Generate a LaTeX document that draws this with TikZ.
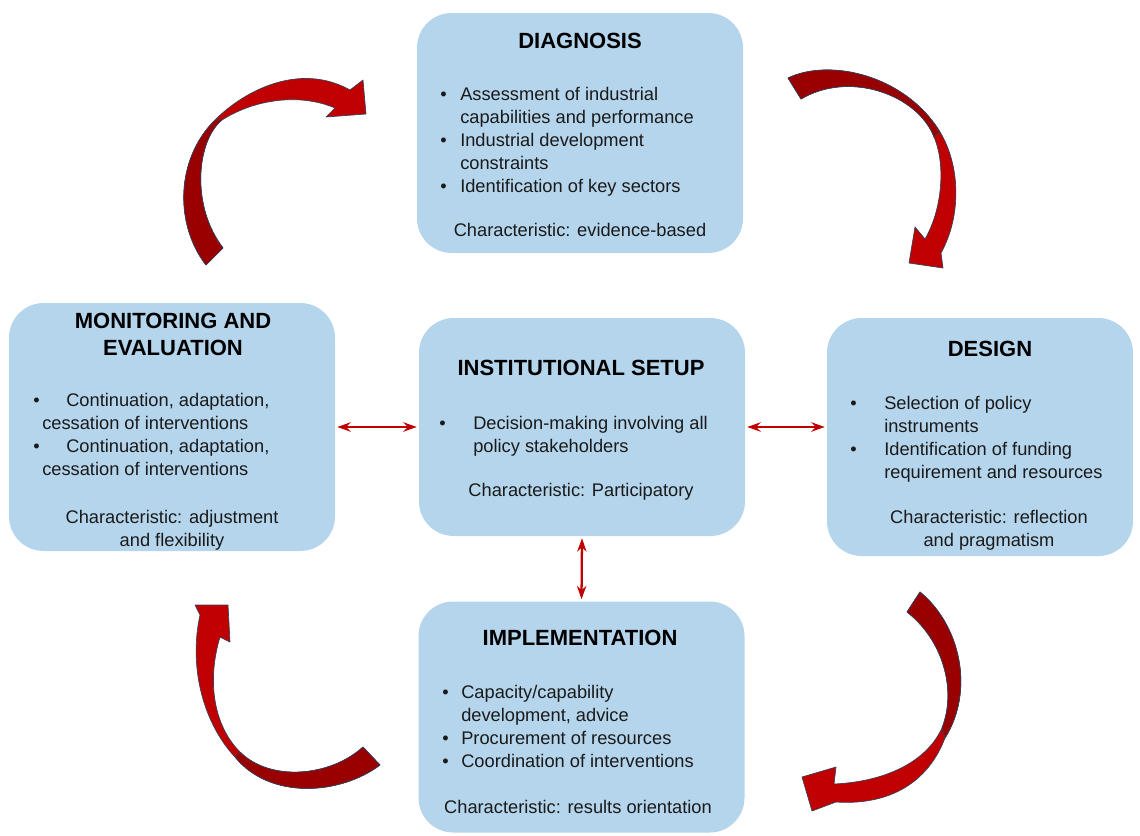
\documentclass[tikz,border=0pt]{standalone}
\usepackage{fontspec}
\setmainfont{Liberation Sans}
\usetikzlibrary{arrows.meta}
\definecolor{boxblue}{HTML}{B4D5EC}
\definecolor{arrowred}{HTML}{C00000}
\definecolor{arrowdark}{HTML}{990000}
\definecolor{arrowedge}{HTML}{34405C}
\definecolor{txtgray}{HTML}{1A1A1A}
\newcommand{\blist}[1]{\begin{tabular}[t]{@{}l@{}l@{}}#1\end{tabular}}
\newcommand{\clist}[1]{\begin{tabular}[t]{@{}c@{}}#1\end{tabular}}
\newcommand{\bul}[1]{\makebox[#1][l]{\textbullet}}

\begin{document}
\begin{tikzpicture}[x=0.75pt, y=-0.75pt,
  box/.style={draw=none, fill=boxblue, rounded corners=26pt, minimum width=244.5pt},
  boxtitle/.style={font=\fontsize{16.5}{20.25}\selectfont\bfseries, inner sep=0, anchor=base},
  boxtext/.style={font=\fontsize{13.7}{17.25}\selectfont, text=txtgray, inner sep=0},
  duallink/.style={draw=arrowred, line width=1.7pt, {Stealth[length=10pt,width=7pt]}-{Stealth[length=10pt,width=7pt]}, shorten <=1.5pt, shorten >=1.5pt},
  curvearrow/.style={fill=arrowred, draw=arrowedge, line width=0.5pt, line join=round},
  curveback/.style={fill=arrowdark, draw=arrowedge, line width=0.5pt, line join=round}]
  \useasboundingbox (0,0) rectangle (1140,836);
  % boxes
  \node[box, minimum height=180pt] (diag) at (580,133) {};
  \node[box, minimum height=186pt] (mon) at (172,427) {};
  \node[box, minimum height=163.5pt] (inst) at (582,427) {};
  \node[box, minimum width=229.5pt, minimum height=178.5pt] (design) at (980,437) {};
  \node[box, minimum height=173.25pt] (impl) at (581.5,717) {};
  % diagnosis
  \node[boxtitle] (diagTitle) at (580,48) {DIAGNOSIS};
  \node[boxtext, anchor=base west] (diagList) at (440,100) {\blist{\bul{15pt}&Assessment of industrial\\&capabilities and performance\\\bul{15pt}&Industrial development\\&constraints\\\bul{15pt}&Identification of key sectors}};
  \node[boxtext, anchor=base] (diagChar) at (580,236) {Characteristic: evidence-based};
  % monitoring and evaluation
  \node[boxtitle] (monTitle) at (173,328) {\clist{MONITORING AND\\EVALUATION}};
  \node[boxtext, anchor=base west] (monList) at (33,406) {\blist{\bul{24.75pt}&Continuation, adaptation,\\\multicolumn{2}{@{}l@{}}{\hspace*{6.75pt}cessation of interventions}\\\bul{24.75pt}&Continuation, adaptation,\\\multicolumn{2}{@{}l@{}}{\hspace*{6.75pt}cessation of interventions}}};
  \node[boxtext, anchor=base] (monChar) at (172,523) {\clist{Characteristic: adjustment\\and flexibility}};
  % institutional setup
  \node[boxtitle] (instTitle) at (581,375) {INSTITUTIONAL SETUP};
  \node[boxtext, anchor=base west] (instList) at (439,429) {\blist{\bul{25.5pt}&Decision-making involving all\\&policy stakeholders}};
  \node[boxtext, anchor=base] (instChar) at (581,496) {Characteristic: Participatory};
  % design
  \node[boxtitle] (designTitle) at (990,356) {DESIGN};
  \node[boxtext, anchor=base west] (designList) at (850,409) {\blist{\bul{25.5pt}&Selection of policy\\&instruments\\\bul{25.5pt}&Identification of funding\\&requirement and resources}};
  \node[boxtext, anchor=base] (designChar) at (989,523) {\clist{Characteristic: reflection\\and pragmatism}};
  % implementation
  \node[boxtitle] (implTitle) at (580,645) {IMPLEMENTATION};
  \node[boxtext, anchor=base west] (implList) at (442,698) {\blist{\bul{14.25pt}&Capacity/capability\\&development, advice\\\bul{14.25pt}&Procurement of resources\\\bul{14.25pt}&Coordination of interventions}};
  \node[boxtext, anchor=base] (implChar) at (578,813) {Characteristic: results orientation};
  % links to the institutional setup
  \draw[duallink] (mon.east) -- (inst.west);
  \draw[duallink] (inst.east) -- (inst.east -| design.west);
  \draw[duallink] (inst.south) -- (impl.north);
  % curved arrows of the cycle
  \draw[curvearrow] (206,265) .. controls (175,225) and (175,160) .. (215,120) .. controls (245,90) and (300,62) .. (350,90) -- (363,80) -- (366,114) -- (326,117) -- (335,108) .. controls (300,93) and (255,99) .. (222,120) .. controls (197,140) and (190,205) .. (223,248) -- cycle;
  \draw[curveback] (206,265) .. controls (175,225) and (175,160) .. (215,120) -- (222,120) .. controls (197,140) and (190,205) .. (223,248) -- cycle;
  \draw[curvearrow] (788,78) .. controls (830,58) and (905,75) .. (940,132) .. controls (960,165) and (962,215) .. (941,253) -- (943,268) -- (909,263) -- (915,227) -- (925,239) .. controls (942,210) and (946,165) .. (934,137) .. controls (918,95) and (850,70) .. (801,99) -- cycle;
  \draw[curveback] (788,78) .. controls (830,58) and (905,75) .. (940,132) -- (934,137) .. controls (918,95) and (850,70) .. (801,99) -- cycle;
  \draw[curvearrow] (920,592) .. controls (960,625) and (975,690) .. (945,738) .. controls (925,790) and (880,805) .. (836,802) -- (812,811) -- (802,777) -- (836,767) -- (834,784) .. controls (880,782) and (925,765) .. (942,728) .. controls (957,690) and (943,640) .. (907,612) -- cycle;
  \draw[curveback] (920,592) .. controls (960,625) and (975,690) .. (945,738) -- (942,728) .. controls (957,690) and (943,640) .. (907,612) -- cycle;
  \draw[curvearrow] (380,765) .. controls (340,795) and (270,800) .. (235,757) .. controls (205,725) and (188,670) .. (200,615) -- (195,605) -- (228,605) -- (230,642) -- (220,637) .. controls (207,680) and (213,725) .. (240,752) .. controls (270,782) and (330,777) .. (363,747) -- cycle;
  \draw[curveback] (380,765) .. controls (340,795) and (270,800) .. (235,757) -- (240,752) .. controls (270,782) and (330,777) .. (363,747) -- cycle;
\end{tikzpicture}
\end{document}
